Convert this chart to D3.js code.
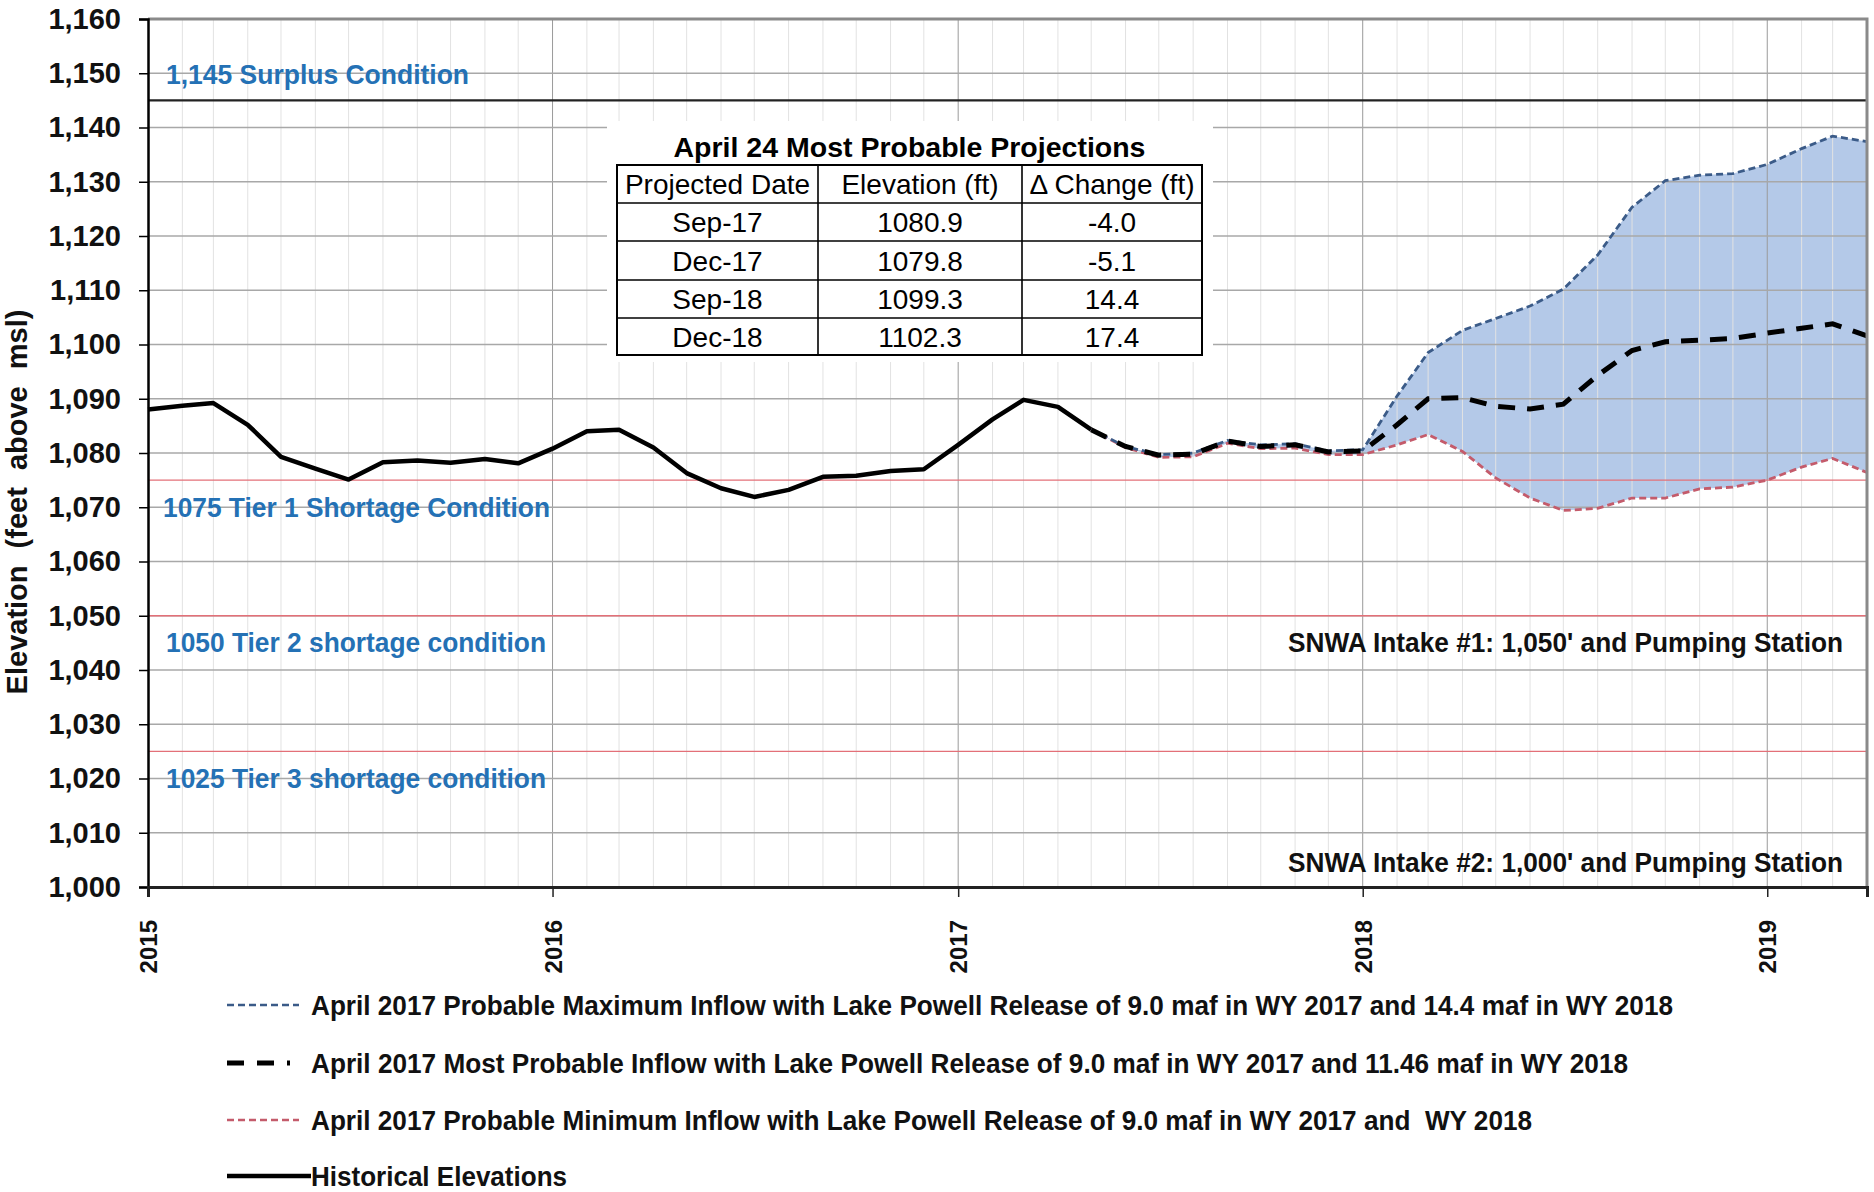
<!DOCTYPE html>
<html>
<head>
<meta charset="utf-8">
<script src="https://cdn.jsdelivr.net/npm/d3@7"></script>
<style>
  body { margin: 0; background: #fff; }
  svg { display: block; font-family: "Liberation Sans", Arial, sans-serif; }
</style>
</head>
<body>
<div id="chart"></div>
<script>
// ---------- DATA ----------
const histMonths = [
  '2015-01','2015-02','2015-03','2015-04','2015-05','2015-06','2015-07','2015-08','2015-09','2015-10','2015-11','2015-12',
  '2016-01','2016-02','2016-03','2016-04','2016-05','2016-06','2016-07','2016-08','2016-09','2016-10','2016-11','2016-12',
  '2017-01','2017-02','2017-03','2017-04','2017-05'
];
const historical = [
  1088.0, 1088.7, 1089.2, 1085.2, 1079.3, 1077.1, 1075.1, 1078.3, 1078.6, 1078.2, 1078.9, 1078.1,
  1080.8, 1084.0, 1084.3, 1081.0, 1076.3, 1073.5, 1071.9, 1073.2, 1075.6, 1075.8, 1076.7, 1077.0,
  1081.5, 1086.2, 1089.8, 1088.5, 1084.3
];

const projMonths = [
  '2017-05','2017-06','2017-07','2017-08','2017-09','2017-10','2017-11','2017-12',
  '2018-01','2018-02','2018-03','2018-04','2018-05','2018-06','2018-07','2018-08','2018-09','2018-10','2018-11','2018-12',
  '2019-01','2019-02','2019-03','2019-04'
];
const maxInflow = [
  1084.3, 1081.2, 1079.7, 1080.0, 1082.3, 1081.5, 1081.7, 1080.4,
  1080.6, 1090.5, 1098.5, 1102.6, 1104.8, 1107.1, 1110.2, 1116.5, 1125.3, 1130.2, 1131.2, 1131.5,
  1133.2, 1136.1, 1138.4, 1137.4
];
const mostProbable = [
  1084.3, 1081.2, 1079.6, 1079.8, 1082.2, 1081.2, 1081.5, 1080.2,
  1080.4, 1085.2, 1090.0, 1090.2, 1088.6, 1088.1, 1089.0, 1094.3, 1098.9, 1100.5, 1100.8, 1101.1,
  1102.1, 1103.0, 1103.8, 1101.6
];
const minInflow = [
  1084.3, 1081.0, 1079.2, 1079.3, 1081.8, 1080.8, 1080.9, 1079.7,
  1079.7, 1081.5, 1083.4, 1080.3, 1075.4, 1071.7, 1069.4, 1069.8, 1071.7, 1071.7, 1073.4, 1073.7,
  1075.0, 1077.4, 1079.0, 1076.4
];

const yTicks = [1000, 1010, 1020, 1030, 1040, 1050, 1060, 1070, 1080, 1090, 1100, 1110, 1120, 1130, 1140, 1150, 1160];
const yearTicks = ['2015', '2016', '2017', '2018', '2019'];

const refLevels = [1145, 1075, 1050, 1025];
const refLabels = ['1,145 Surplus Condition', '1075 Tier 1 Shortage Condition', '1050 Tier 2 shortage condition', '1025 Tier 3 shortage condition'];
const intakeLevels = [1050, 1000];
const intakeLabels = ["SNWA Intake #1: 1,050' and Pumping Station", "SNWA Intake #2: 1,000' and Pumping Station"];

const tableTitle = 'April 24 Most Probable Projections';
const tableHeader = ['Projected Date', 'Elevation (ft)', '\u0394 Change (ft)'];
const tableDates = ['Sep-17', 'Dec-17', 'Sep-18', 'Dec-18'];
const tableElev = ['1080.9', '1079.8', '1099.3', '1102.3'];
const tableChange = ['-4.0', '-5.1', '14.4', '17.4'];

const legendLabels = [
  'April 2017 Probable Maximum Inflow with Lake Powell Release of 9.0 maf in WY 2017 and 14.4 maf in WY 2018',
  'April 2017 Most Probable Inflow with Lake Powell Release of 9.0 maf in WY 2017 and 11.46 maf in WY 2018',
  'April 2017 Probable Minimum Inflow with Lake Powell Release of 9.0 maf in WY 2017 and  WY 2018',
  'Historical Elevations'
];

// ---------- SETUP ----------
const parseMonth = d3.timeParse('%Y-%m');
const width = 1874, height = 1192;
const plot = { left: 148, right: 1867, top: 19, bottom: 887 };

const svg = d3.select('#chart').append('svg')
  .attr('width', width)
  .attr('height', height);

const x = d3.scaleTime()
  .domain([new Date(2015, 0, 1), new Date(2019, 3, 1)])
  .range([plot.left, plot.right]);
const y = d3.scaleLinear()
  .domain([1000, 1160])
  .range([plot.bottom, plot.top]);

const histData = histMonths.map((m, i) => ({ date: parseMonth(m), value: historical[i] }));
const projData = projMonths.map((m, i) => ({
  date: parseMonth(m), max: maxInflow[i], mid: mostProbable[i], min: minInflow[i]
}));

// ---------- FILL BETWEEN MAX / MIN ----------
svg.append('path')
  .datum(projData)
  .attr('fill', '#b4c9e8')
  .attr('d', d3.area().x(d => x(d.date)).y0(d => y(d.min)).y1(d => y(d.max)));

// ---------- GRID ----------
const months = d3.timeMonth.range(new Date(2015, 1, 1), new Date(2019, 3, 1));
svg.append('g').selectAll('line')
  .data(months)
  .enter().append('line')
  .attr('x1', d => x(d)).attr('x2', d => x(d))
  .attr('y1', plot.top).attr('y2', plot.bottom)
  .attr('stroke', d => d.getMonth() === 0 ? '#9a9a9a' : '#e2e2e2')
  .attr('stroke-width', 1);

svg.append('g').selectAll('line')
  .data(yTicks)
  .enter().append('line')
  .attr('x1', plot.left).attr('x2', plot.right)
  .attr('y1', d => y(d)).attr('y2', d => y(d))
  .attr('stroke', '#a8a8a8')
  .attr('stroke-width', 1.5);

// ---------- TABLE BACKGROUND ----------
svg.append('rect')
  .attr('x', 607).attr('y', 121)
  .attr('width', 606).attr('height', 241)
  .attr('fill', '#fff');

// ---------- REFERENCE LINES ----------
svg.append('g').selectAll('line')
  .data(refLevels)
  .enter().append('line')
  .attr('x1', plot.left).attr('x2', plot.right)
  .attr('y1', d => y(d)).attr('y2', d => y(d))
  .attr('stroke', (d, i) => i === 0 ? '#222' : '#e37078')
  .attr('stroke-width', (d, i) => i === 0 ? 2.2 : 1.4);

const refLabelOffset = [-26, 27, 27, 27];
const refLabelWidth = [303, 387, 380, 380];
svg.append('g').selectAll('text')
  .data(refLevels)
  .enter().append('text')
  .attr('x', (d, i) => i === 1 ? 163 : 166)
  .attr('y', (d, i) => y(d) + refLabelOffset[i])
  .attr('dy', '0.35em')
  .attr('fill', '#2471b5')
  .attr('textLength', (d, i) => refLabelWidth[i])
  .attr('lengthAdjust', 'spacingAndGlyphs')
  .style('font-size', '27px')
  .style('font-weight', 'bold')
  .text((d, i) => refLabels[i]);

svg.append('g').selectAll('text')
  .data(intakeLevels)
  .enter().append('text')
  .attr('x', 1288)
  .attr('y', (d, i) => i === 0 ? y(d) + 27 : y(d) - 24)
  .attr('dy', '0.35em')
  .attr('fill', '#111')
  .attr('textLength', 555)
  .attr('lengthAdjust', 'spacingAndGlyphs')
  .style('font-size', '27px')
  .style('font-weight', 'bold')
  .text((d, i) => intakeLabels[i]);

// ---------- LINES ----------
const line = d3.line().x(d => x(d.date)).y(d => y(d.value));
const projLine = key => d3.line().x(d => x(d.date)).y(d => y(d[key]));

svg.append('path')
  .datum(histData)
  .attr('fill', 'none')
  .attr('stroke', '#000')
  .attr('stroke-width', 4.5)
  .attr('stroke-linejoin', 'round')
  .attr('d', line);

svg.append('path')
  .datum(projData)
  .attr('fill', 'none')
  .attr('stroke', '#c45b6b')
  .attr('stroke-width', 2.8)
  .attr('stroke-dasharray', '7,4')
  .attr('d', projLine('min'));

svg.append('path')
  .datum(projData)
  .attr('fill', 'none')
  .attr('stroke', '#3b5b88')
  .attr('stroke-width', 2.8)
  .attr('stroke-dasharray', '7,4')
  .attr('d', projLine('max'));

svg.append('path')
  .datum(projData)
  .attr('fill', 'none')
  .attr('stroke', '#000')
  .attr('stroke-width', 5)
  .attr('stroke-dasharray', '17,12')
  .attr('d', projLine('mid'));

// ---------- FRAME & AXES ----------
svg.append('path')
  .attr('d', `M${plot.left},${plot.top}H${plot.right}V${plot.bottom}`)
  .attr('fill', 'none')
  .attr('stroke', '#8a8a8a')
  .attr('stroke-width', 3);

const yAxis = svg.append('g')
  .attr('transform', `translate(${plot.left},0)`)
  .call(d3.axisLeft(y).tickValues(yTicks).tickFormat(d3.format(',')).tickSize(9).tickPadding(18));
yAxis.select('.domain').attr('stroke', '#000').attr('stroke-width', 2.5);
yAxis.selectAll('.tick line').attr('stroke', '#000').attr('stroke-width', 1.5);
yAxis.selectAll('text')
  .attr('fill', '#111')
  .style('font-size', '29px')
  .style('font-weight', 'bold')
  .style('font-family', '"Liberation Sans", Arial, sans-serif');

const xAxis = svg.append('g')
  .attr('transform', `translate(0,${plot.bottom})`)
  .call(d3.axisBottom(x).tickValues(yearTicks.map(d => new Date(+d, 0, 1))).tickFormat(d3.timeFormat('%Y')).tickSize(10));
xAxis.select('.domain').attr('stroke', '#222').attr('stroke-width', 3);
xAxis.selectAll('.tick line').attr('stroke', '#222').attr('stroke-width', 1.5);
xAxis.selectAll('text')
  .attr('transform', 'rotate(-90)')
  .attr('text-anchor', 'end')
  .attr('x', -33)
  .attr('y', 0)
  .attr('dy', '0.36em')
  .attr('fill', '#111')
  .style('font-size', '24px')
  .style('font-weight', 'bold')
  .style('font-family', '"Liberation Sans", Arial, sans-serif');

svg.append('text')
  .attr('transform', 'translate(17,502) rotate(-90)')
  .attr('text-anchor', 'middle')
  .attr('dy', '0.35em')
  .attr('fill', '#111')
  .style('font-size', '29px')
  .style('font-weight', 'bold')
  .style('word-spacing', '9px')
  .text('Elevation (feet above msl)');

// ---------- TABLE ----------
const colX = [617, 818, 1022, 1202];
const rowY = [165, 203, 241, 280, 318, 355];
const table = svg.append('g');

table.append('text')
  .attr('x', (colX[0] + colX[3]) / 2)
  .attr('y', 147)
  .attr('dy', '0.35em')
  .attr('text-anchor', 'middle')
  .attr('fill', '#000')
  .style('font-size', '28.5px')
  .style('font-weight', 'bold')
  .text(tableTitle);

table.append('rect')
  .attr('x', colX[0]).attr('y', rowY[0])
  .attr('width', colX[3] - colX[0]).attr('height', rowY[5] - rowY[0])
  .attr('fill', 'none').attr('stroke', '#000').attr('stroke-width', 2);

table.selectAll('.hline')
  .data(rowY.slice(1, 5))
  .enter().append('line')
  .attr('x1', colX[0]).attr('x2', colX[3])
  .attr('y1', d => d).attr('y2', d => d)
  .attr('stroke', '#000').attr('stroke-width', 1.6);

table.selectAll('.vline')
  .data(colX.slice(1, 3))
  .enter().append('line')
  .attr('x1', d => d).attr('x2', d => d)
  .attr('y1', rowY[0]).attr('y2', rowY[5])
  .attr('stroke', '#000').attr('stroke-width', 1.6);

const tableRows = [tableHeader].concat(tableDates.map((d, i) => [d, tableElev[i], tableChange[i]]));
tableRows.forEach((row, r) => {
  row.forEach((cell, c) => {
    table.append('text')
      .attr('x', (colX[c] + colX[c + 1]) / 2)
      .attr('y', (rowY[r] + rowY[r + 1]) / 2)
      .attr('dy', '0.36em')
      .attr('text-anchor', 'middle')
      .attr('fill', '#000')
      .style('font-size', '28px')
      .text(cell);
  });
});

// ---------- LEGEND ----------
const legendY = [1005, 1063, 1120, 1176];
const legendWidth = [1362, 1317, 1221, 256];
const legendStyles = [
  { stroke: '#3b5b88', width: 2.6, dash: '7,4', x2: 299 },
  { stroke: '#000', width: 5, dash: '17,13', x2: 290 },
  { stroke: '#c45b6b', width: 2.6, dash: '7,4', x2: 299 },
  { stroke: '#000', width: 4.5, dash: null, x2: 311 }
];
const legend = svg.append('g');
legendLabels.forEach((label, i) => {
  const s = legendStyles[i];
  legend.append('line')
    .attr('x1', 227).attr('x2', s.x2)
    .attr('y1', legendY[i]).attr('y2', legendY[i])
    .attr('stroke', s.stroke)
    .attr('stroke-width', s.width)
    .attr('stroke-dasharray', s.dash);
  legend.append('text')
    .attr('x', 311)
    .attr('y', legendY[i])
    .attr('dy', '0.35em')
    .attr('fill', '#111')
    .attr('textLength', legendWidth[i])
    .attr('lengthAdjust', 'spacingAndGlyphs')
    .style('white-space', 'pre')
    .style('font-size', '28px')
    .style('font-weight', 'bold')
    .text(label);
});
</script>
</body>
</html>
